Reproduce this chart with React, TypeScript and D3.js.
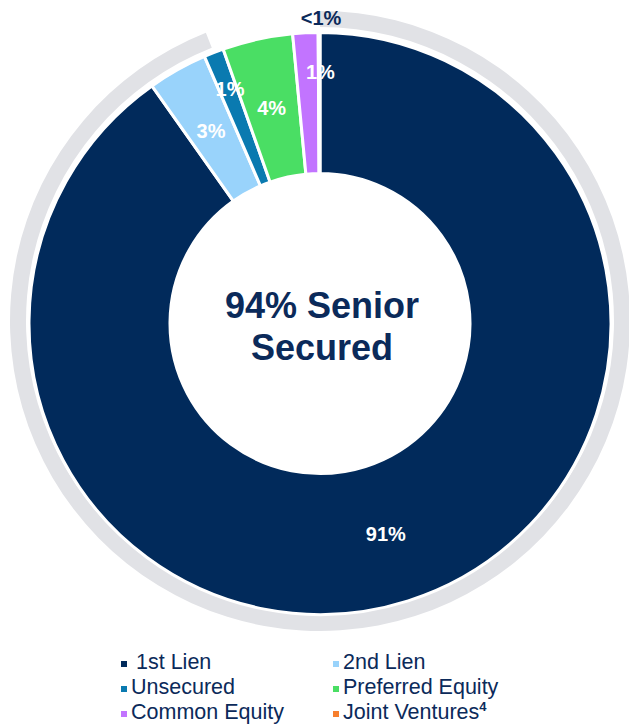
import React from "react";
import * as d3 from "d3";

const categories = ["1st Lien", "2nd Lien", "Unsecured", "Preferred Equity", "Common Equity", "Joint Ventures"];
const values = [90.2, 3.3, 1.1, 3.9, 1.4, 0.1];
const sliceLabels = ["91%", "3%", "1%", "4%", "1%", "<1%"];
const colors = ["#012a5b", "#99d3fb", "#0a7ab0", "#4ade64", "#c274ff", "#f77f2d"];
const seniorSecuredPct = 94;
const centerLines = ["94% Senior", "Secured"];

const W = 629;
const H = 726;
const FONT = "'Liberation Sans', Arial, Helvetica, sans-serif";
const NAVY = "#0b2a5a";

export default function App() {
  const cx = 320;
  const cy = 323.5;
  const inner = 150;
  const outer = 291;

  const pie = d3
    .pie<number>()
    .sort(null)
    .value((d) => d)
    .startAngle(0)
    .endAngle(2 * Math.PI);
  const arcs = pie(values);

  const arc = d3.arc<d3.PieArcDatum<number>>().innerRadius(inner).outerRadius(outer);
  const smallLabelArc = d3.arc<d3.PieArcDatum<number>>().innerRadius(252).outerRadius(252);
  const outsideLabelArc = d3.arc<d3.PieArcDatum<number>>().innerRadius(306).outerRadius(306);

  const ringArc = d3
    .arc()
    .innerRadius(294)
    .outerRadius(310)
    .startAngle(0)
    .endAngle((2 * Math.PI * seniorSecuredPct) / 100);

  const labelPos = (i: number, a: d3.PieArcDatum<number>) => {
    const share = a.value;
    if (share < 0.5) return { p: outsideLabelArc.centroid(a), color: NAVY, size: 20, dx: 2 };
    if (share < 2) {
      const p = smallLabelArc.centroid(a);
      const dx = i === 4 ? 13 : 2;
      return { p, color: "#ffffff", size: 20, dx };
    }
    return { p: arc.centroid(a), color: "#ffffff", size: 20, dx: -1 };
  };

  const legendCols = [124, 336];
  const legendRows = [664, 689, 714];

  return (
    <svg
      width={W}
      height={H}
      viewBox={`0 0 ${W} ${H}`}
      style={{ position: "absolute", left: 0, top: 0, background: "#ffffff" }}
    >
      <g transform={`translate(${cx},${cy - 2.5})`}>
        <path d={ringArc({} as any) as string} fill="#e1e2e6" />
      </g>
      <g transform={`translate(${cx},${cy})`}>
        {arcs.map((a, i) => (
          <path key={categories[i]} d={arc(a) as string} fill={colors[i]} stroke="#ffffff" strokeWidth={3} strokeLinejoin="miter" />
        ))}
        {arcs.map((a, i) => {
          const l = labelPos(i, a);
          return (
            <text
              key={"l" + i}
              x={l.p[0] + l.dx}
              y={l.p[1]}
              dy="0.36em"
              textAnchor="middle"
              fontFamily={FONT}
              fontWeight="bold"
              fontSize={l.size}
              fill={l.color}
            >
              {sliceLabels[i]}
            </text>
          );
        })}
      </g>
      <g fontFamily={FONT} fontWeight="bold" fontSize={36} fill={NAVY} textAnchor="middle">
        {centerLines.map((t, i) => (
          <text key={t} x={322} y={317.5 + i * 42}>
            {t}
          </text>
        ))}
      </g>
      <g fontFamily={FONT} fontSize={21.5} fill={NAVY}>
        {categories.map((c, i) => {
          const col = i % 2;
          const row = Math.floor(i / 2);
          const mx = legendCols[col];
          const my = legendRows[row];
          const tx = i === 0 ? mx + 12 : mx + 7;
          return (
            <g key={"lg" + i}>
              <rect x={mx - 3} y={my - 3} width={6} height={6} fill={colors[i]} />
              <text x={tx} y={my + 4} dy="0.05em">
                {c}
                {i === 5 ? (
                  <tspan fontSize={13} fontWeight="bold" dy={-8}>
                    4
                  </tspan>
                ) : null}
              </text>
            </g>
          );
        })}
      </g>
    </svg>
  );
}
